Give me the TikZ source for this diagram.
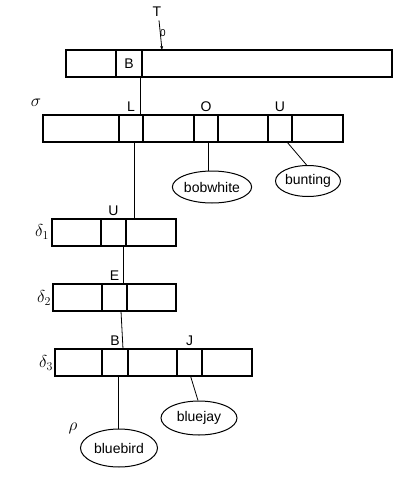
\documentclass[tikz,border=0pt]{standalone}
\usepackage{fontspec}
\setmainfont{Liberation Sans}
\usepackage{tikz}
\usetikzlibrary{shapes.geometric,arrows.meta}

\begin{document}
\begin{tikzpicture}[x=1pt,y=-1pt,
    every node/.style={font=\fontsize{14}{16}\selectfont},
    greek/.style={font=\fontsize{17}{19}\selectfont},
    cell/.style={draw, line width=1.2pt, minimum height=27pt, inner sep=0pt, outer sep=0pt, anchor=north west},
    bird/.style={draw, ellipse, line width=1pt, inner sep=0pt},
    link/.style={line width=0.8pt}]
    \useasboundingbox (0,0) rectangle (417,483);

    % Top row with pointer T0
    \foreach \l/\r/\n/\t in {66/116/t1/, 116/142/tB/B, 142/392/t3/}
        \node[cell, minimum width={(\r-\l)*1pt}] (\n) at (\l,50) {\t};
    \node (T) at (157,12) {T};
    \node[font=\fontsize{10}{11}\selectfont] (T0) at (163,33) {0};
    \draw[link,-{Stealth[length=4pt,width=3pt]}] ([xshift=2pt]T.south) -- ([xshift=20pt]t3.north west);

    % Sigma row
    \foreach \l/\r/\n/\t in {43/119/s1/, 119/143/sL/L, 143/194/s3/, 194/218/sO/O, 218/268/s5/, 268/292/sU/U, 292/343/s7/}
        \node[cell, minimum width={(\r-\l)*1pt}, label=above:\t] (\n) at (\l,115) {};
    \node[greek] (sigma) at (36,103) {$\sigma$};

    % Delta rows
    \foreach \l/\r/\n/\t in {52/101/da1/, 101/126/daU/U, 126/176/da3/}
        \node[cell, minimum width={(\r-\l)*1pt}, label=above:\t] (\n) at (\l,219) {};
    \node[greek] (delta1) at (42,232) {$\delta_1$};
    \foreach \l/\r/\n/\t in {53/102/db1/, 102/127/dbE/E, 127/176/db3/}
        \node[cell, minimum width={(\r-\l)*1pt}, label=above:\t] (\n) at (\l,284) {};
    \node[greek] (delta2) at (44,298) {$\delta_2$};
    \foreach \l/\r/\n/\t in {55/102/dc1/, 102/128/dcB/B, 128/177/dc3/, 177/202/dcJ/J, 202/252/dc5/}
        \node[cell, minimum width={(\r-\l)*1pt}, label=above:\t] (\n) at (\l,349) {};
    \node[greek] (delta3) at (46,363) {$\delta_3$};
    \node[greek] (rho) at (73,428) {$\rho$};

    % Leaves
    \node[bird, minimum width=76pt, minimum height=32pt] (bobwhite) at (212,187) {bobwhite};
    \node[bird, minimum width=63pt, minimum height=31pt] (bunting) at (308,181) {bunting};
    \node[bird, minimum width=76pt, minimum height=34pt] (bluejay) at (199,418) {bluejay};
    \node[bird, minimum width=77pt, minimum height=38pt] (bluebird) at (119,448) {bluebird};

    % Links between rows
    \draw[link] ([xshift=-2pt]tB.south east) -- ([xshift=-3pt]sL.north east);
    \draw[link] ([xshift=3pt]sL.south) -- ([xshift=8pt]da3.north west);
    \draw[link] ([xshift=-3pt]daU.south east) -- ([xshift=-4pt]dbE.north east);
    \draw[link] ([xshift=-6pt]dbE.south east) -- ([xshift=-5pt]dcB.north east);
    \draw[link] ([xshift=2pt]sO.south) -- ([xshift=-4pt]bobwhite.north);
    \draw[link] ([xshift=7pt]sU.south) -- (bunting.95);
    \draw[link] ([xshift=3pt]dcB.south) -- ([xshift=-1pt]bluebird.north);
    \draw[link] ([xshift=1pt]dcJ.south) -- ([xshift=-1pt]bluejay.north);
\end{tikzpicture}
\end{document}
